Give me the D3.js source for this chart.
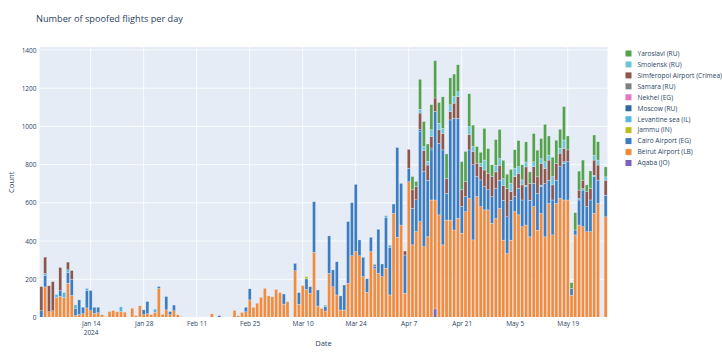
<!DOCTYPE html>
<html><head><meta charset="utf-8">
<script src="https://cdn.jsdelivr.net/npm/d3@7"></script>
<style>body{margin:0;background:#fff;} text{font-family:"Open Sans",sans-serif;}</style>
</head><body><svg id="c" width="722" height="353"></svg>
<script>
// Daily series starting 2024-01-01 (Jan 31, Feb 29, Mar 31, Apr 30, May 29 days)
const startDate = "2024-01-01";
const keys = ["Aqaba (JO)","Beirut Airport (LB)","Cairo Airport (EG)","Jammu (IN)","Levantine sea (IL)","Moscow (RU)","Nekhel (EG)","Samara (RU)","Simferopol Airport (Crimea)","Smolensk (RU)","Yaroslavl (RU)"];
const colors = ["#7B62B8","#F38B3A","#3B7DC0","#BCBD22","#55B7E0","#2C6AA0","#E377C2","#7F7F7F","#8C564B","#6CC5D6","#54A24B"];
const yTicks = [0,200,400,600,800,1000,1200,1400];
const xTickDates = ["2024-01-14","2024-01-28","2024-02-11","2024-02-25","2024-03-10","2024-03-24","2024-04-07","2024-04-21","2024-05-05","2024-05-19"];

const beirut = [
 0,160,30,35,105,110,105,180,115,10, 15,20,50,35,22,25,14,5,31,37, 30,30,28,0,49,10,61,15,20,15, 28,
 152,17,40,15,35,14,5,0,0,0, 0,0,0,0,19,0,0,0,0,0, 37,9,26,30,92,54,75,106,153,
 113,109,147,130,70,83,0,245,69,167, 147,127,341,60,48,34,231,161,118,39, 39,179,323,345,323,214,132,345,256,231, 214,
 258,118,545,420,484,127,711,380,450,502, 371,423,615,570,537,380,510,510,458,519, 441,554,624,406,633,580,563,563,493,518,
 571,405,335,405,554,537,475,484,422,580, 457,545,422,597,432,597,624,615,615,117, 432,484,475,449,449,545,597,0,527];
const cairo = [
 35,60,0,0,0,30,0,55,85,36, 77,34,93,106,32,29,0,0,0,0, 0,0,0,0,0,0,0,25,64,0, 0,
 10,0,70,16,30,0,0,0,0,0, 0,0,0,0,0,0,10,0,0,0, 0,0,0,24,58,0,0,0,0,
 0,0,0,0,53,0,0,38,61,0, 55,34,265,84,0,25,196,88,174,74, 131,323,278,352,83,101,71,75,12,231, 66,
 265,248,49,470,218,200,70,192,166,471, 393,295,262,464,375,497,140,524,585,524, 140,79,253,393,105,140,122,105,140,157,
 148,209,192,209,79,140,140,200,192,122, 192,140,279,122,183,122,166,192,201,35, 26,131,192,131,166,192,122,0,113];
const levantine = [
 0,10,0,0,15,0,26,15,0,20, 0,0,10,0,0,0,0,0,0,0, 0,26,0,0,0,0,0,0,0,0, 16,
 0,0,0,0,0,0,0,0,0,0, 0,0,0,0,0,0,0,0,0,0, 0,0,0,0,0,0,0,0,0,
 0,0,0,0,0,0,0,0,0,0, 0,0,0,0,0,6,0,0,0,0, 0,0,0,0,0,0,0,0,0,0, 0,
 10,10,0,0,0,0,0,0,0,0, 0,0,0,0,0,0,0,0,0,0, 0,0,0,0,0,0,0,0,0,0,
 0,0,0,0,0,0,0,8,0,0, 0,8,0,0,0,0,0,8,0,0, 0,8,8,0,0,8,0,0,0];
const moscow = [
 0,0,0,0,0,0,0,0,0,0, 0,0,0,0,0,0,0,0,0,0, 0,0,0,0,0,0,0,0,0,0, 0,
 0,0,0,0,0,0,0,0,0,0, 0,0,0,0,0,0,0,0,0,0, 0,0,0,0,0,0,0,0,0,
 0,0,0,0,0,0,0,0,0,0, 0,0,0,0,0,0,0,0,0,0, 0,0,0,0,0,0,0,0,0,0, 0,
 0,0,0,0,0,0,0,0,0,12, 0,0,10,0,0,0,0,0,0,0, 0,0,0,0,0,0,0,0,0,0,
 0,0,0,0,0,0,0,0,0,0, 0,0,0,0,0,0,0,0,0,0, 0,0,0,0,0,0,0,0,0];
const simferopol = [
 127,86,136,153,0,122,0,40,46,0, 0,0,0,0,0,0,0,0,0,0, 0,0,0,0,0,0,0,0,0,0, 0,
 0,0,0,0,0,0,0,0,0,0, 0,0,0,0,0,0,0,0,0,0, 0,0,0,0,0,0,0,0,0,
 0,0,0,0,0,0,0,0,0,0, 0,0,0,0,0,0,0,0,0,0, 0,0,0,0,0,0,0,0,0,0, 0,
 0,0,0,0,0,21,99,96,70,85, 111,80,61,70,70,87,79,44,79,113, 87,79,79,70,70,70,87,87,105,87,
 78,78,148,44,105,78,79,96,87,87, 87,113,79,105,79,87,70,70,61,0, 0,44,44,79,61,79,79,0,79];
const smolensk = [
 0,0,0,0,0,0,0,0,0,0, 0,0,0,0,0,0,0,0,0,0, 0,0,0,0,0,0,0,0,0,0, 0,
 0,0,0,0,0,0,0,0,0,0, 0,0,0,0,0,0,0,0,0,0, 0,0,0,0,0,0,0,0,0,
 0,0,0,0,0,0,0,0,0,0, 0,0,0,0,0,0,0,0,0,0, 0,0,0,0,0,0,0,0,0,0, 0,
 0,0,0,0,0,0,0,0,0,20, 20,20,35,0,35,26,0,35,35,26, 0,0,44,26,0,17,52,0,0,35,
 35,35,0,44,44,35,26,26,0,26, 0,26,35,26,44,0,26,44,0,0, 0,0,0,0,0,26,26,0,17];
const yaroslavl = [
 0,0,0,0,0,0,0,0,0,0, 0,0,0,0,0,0,0,0,0,0, 0,0,0,0,0,0,0,0,0,0, 0,
 0,0,0,0,0,0,0,0,0,0, 0,0,0,0,0,0,0,0,0,0, 0,0,0,0,0,0,0,0,0,
 0,0,0,0,0,0,0,0,0,0, 0,0,0,0,0,0,0,0,0,0, 0,0,0,0,0,0,0,0,0,0, 0,
 0,0,0,0,0,0,0,70,26,157, 131,90,131,195,108,165,127,141,117,141, 148,157,171,112,87,58,166,129,61,134,
 152,96,75,73,96,136,79,105,61,148, 140,105,196,100,101,122,99,175,73,30, 91,99,105,35,91,105,96,0,52];
// sparse small series: [dayIndex, value]
const aqabaPts = [[104,45]];
const jammuPts = [[70,12]];
const nekhelPts = [[92,4]];
const samaraPts = [[88,10]];

function fromPts(p){ const a = beirut.map(()=>0); p.forEach(([i,v])=>a[i]=v); return a; }
const aqaba = fromPts(aqabaPts), jammu = fromPts(jammuPts), nekhel = fromPts(nekhelPts), samara = fromPts(samaraPts);
const seriesValues = [aqaba, beirut, cairo, jammu, levantine, moscow, nekhel, samara, simferopol, smolensk, yaroslavl];

const parse = d3.utcParse("%Y-%m-%d");
const start = parse(startDate);
const rows = beirut.map((_, i) => {
  const r = {date: d3.utcDay.offset(start, i)};
  keys.forEach((k, j) => r[k] = seriesValues[j][i]);
  return r;
});
const last = rows[rows.length-1].date;

const L = 39.5, R = 607.5, T = 47, B = 317.5;
const svg = d3.select("#c");
const x = d3.scaleUtc().domain([d3.utcHour.offset(start,-12), d3.utcHour.offset(last,12)]).range([L, R]);
const y = d3.scaleLinear().domain([0, 1415.7]).range([B, T]);
const bw = (x(d3.utcDay.offset(start,1)) - x(start)) * 0.8;

svg.append("rect").attr("x",L).attr("y",T).attr("width",R-L).attr("height",B-T).attr("fill","#E5ECF6");
// grid
svg.append("g").selectAll("line").data(yTicks.slice(1)).join("line")
  .attr("x1",L).attr("x2",R).attr("y1",d=>y(d)).attr("y2",d=>y(d)).attr("stroke","#fff").attr("stroke-width",0.8);
const xt = xTickDates.map(parse);
svg.append("g").selectAll("line").data(xt).join("line")
  .attr("x1",d=>x(d)).attr("x2",d=>x(d)).attr("y1",T).attr("y2",B).attr("stroke","#fff").attr("stroke-width",0.8);

const stacked = d3.stack().keys(keys)(rows);
const g = svg.append("g");
stacked.forEach((layer, li) => {
  g.append("g").attr("fill", colors[li]).selectAll("rect")
    .data(layer.filter(d => d[1] - d[0] > 0)).join("rect")
    .attr("x", d => x(d.data.date) - bw/2)
    .attr("width", bw)
    .attr("y", d => y(d[1]))
    .attr("height", d => y(d[0]) - y(d[1]))
    .attr("stroke", "#E5ECF6").attr("stroke-width", 0.35);
});
// zero line
svg.append("line").attr("x1",L).attr("x2",R).attr("y1",y(0)).attr("y2",y(0)).attr("stroke","#fff").attr("stroke-width",1);

// axes
const yAxis = d3.axisLeft(y).tickValues(yTicks).tickSize(0).tickPadding(3).tickFormat(d3.format("d"));
const yg = svg.append("g").attr("transform",`translate(${L},0)`).call(yAxis);
yg.select(".domain").remove();
yg.selectAll("text").attr("font-size",6.5).attr("fill","#2a3f5f").attr("font-family","Open Sans");

const fmt = d3.utcFormat("%b %-d");
const xAxis = d3.axisBottom(x).tickValues(xt).tickSize(0).tickPadding(4).tickFormat(fmt);
const xg = svg.append("g").attr("transform",`translate(0,${B})`).call(xAxis);
xg.select(".domain").remove();
xg.selectAll("text").attr("font-size",6.5).attr("fill","#2a3f5f").attr("font-family","Open Sans");
xg.selectAll(".tick").filter((d,i)=>i===0).append("text")
  .attr("y",12.5).attr("dy","0.71em").attr("text-anchor","middle").attr("font-size",6.5).attr("fill","#2a3f5f").text("2024");

svg.append("text").attr("x",36).attr("y",22).attr("font-size",9.2).attr("fill","#2a3f5f").text("Number of spoofed flights per day");
svg.append("text").attr("x",(L+R)/2).attr("y",346).attr("text-anchor","middle").attr("font-size",7.6).attr("fill","#2a3f5f").text("Date");
svg.append("text").attr("transform",`translate(14,${(T+B)/2}) rotate(-90)`).attr("text-anchor","middle").attr("font-size",7.6).attr("fill","#2a3f5f").text("Count");

// legend (reverse order)
const lg = svg.append("g");
const legendKeys = keys.map((k,i)=>({k, c:colors[i]})).reverse();
legendKeys.forEach((d,i) => {
  const yy = 53.5 + i*10.95;
  lg.append("rect").attr("x",625.5).attr("y",yy-3).attr("width",6).attr("height",6).attr("fill",d.c);
  lg.append("text").attr("x",637.5).attr("y",yy).attr("dy","0.35em").attr("font-size",6.6).attr("fill","#2a3f5f").text(d.k);
});
</script>
</body></html>
